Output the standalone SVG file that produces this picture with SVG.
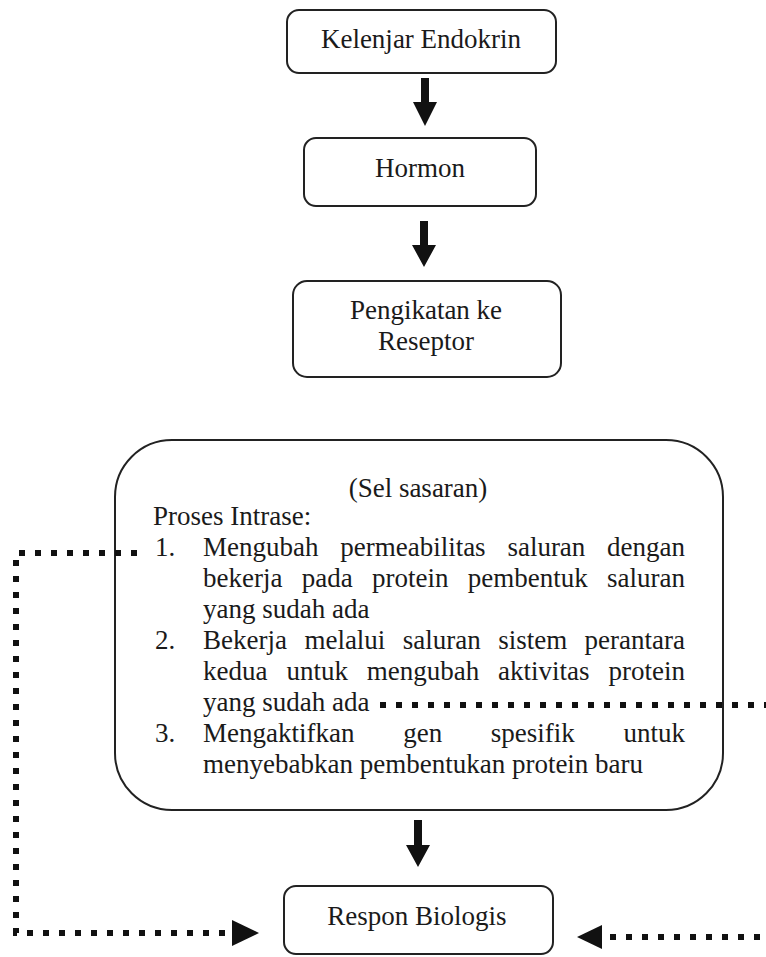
<svg xmlns="http://www.w3.org/2000/svg" width="766" height="957" viewBox="0 0 766 957">
<style>
.box{fill:#fff;stroke:#222;stroke-width:2}
.t{font-family:"Liberation Serif","Times New Roman",serif;font-size:27px;fill:#1a1a1a}
.c{text-anchor:middle}
.dot{fill:none;stroke:#111;stroke-width:6;stroke-dasharray:6 10}
.ah{fill:#111}
</style>
<rect width="766" height="957" fill="#fff"/>
<g id="kelenjar">
<rect class="box" x="287" y="10" width="269" height="63" rx="12"/>
<text class="t c" x="421" y="48">Kelenjar Endokrin</text>
</g>
<g id="hormon">
<rect class="box" x="304" y="138" width="232" height="68" rx="12"/>
<text class="t c" x="420" y="177">Hormon</text>
</g>
<g id="pengikatan">
<rect class="box" x="293" y="281" width="268" height="96" rx="14"/>
<text class="t c" x="426" y="319">Pengikatan ke</text>
<text class="t c" x="426" y="350">Reseptor</text>
</g>
<g id="sel-sasaran">
<rect class="box" x="115" y="440" width="608" height="370" rx="57"/>
<text class="t c" x="418" y="497">(Sel sasaran)</text>
<text class="t" x="153" y="525">Proses Intrase:</text>
<text class="t" y="556"><tspan x="155">1.</tspan><tspan x="203">Mengubah</tspan><tspan x="340.2">permeabilitas</tspan><tspan x="507.4">saluran</tspan><tspan x="607.1">dengan</tspan></text>
<text class="t" y="587"><tspan x="203">bekerja</tspan><tspan x="301.7">pada</tspan><tspan x="372">protein</tspan><tspan x="467.8">pembentuk</tspan><tspan x="607">saluran</tspan></text>
<text class="t" x="203" y="618">yang sudah ada</text>
<text class="t" y="649"><tspan x="155">2.</tspan><tspan x="203">Bekerja</tspan><tspan x="304.4">melalui</tspan><tspan x="402.8">saluran</tspan><tspan x="498.2">sistem</tspan><tspan x="584.6">perantara</tspan></text>
<text class="t" y="680"><tspan x="203">kedua</tspan><tspan x="286.4">untuk</tspan><tspan x="366.8">mengubah</tspan><tspan x="498.1">aktivitas</tspan><tspan x="608.5">protein</tspan></text>
<text class="t" x="203" y="711">yang sudah ada</text>
<text class="t" y="742"><tspan x="155">3.</tspan><tspan x="203">Mengaktifkan</tspan><tspan x="403.2">gen</tspan><tspan x="490.8">spesifik</tspan><tspan x="623.5">untuk</tspan></text>
<text class="t" x="203" y="773">menyebabkan pembentukan protein baru</text>
</g>
<g id="respon">
<rect class="box" x="284" y="886" width="269" height="68" rx="12"/>
<text class="t c" x="417" y="925">Respon Biologis</text>
</g>
<g id="connectors">
<path class="ah" d="M421,78 h8 v24 h8 l-12,24 l-12,-24 h8 z"/>
<path class="ah" d="M420,221 h8 v24 h8 l-12,22 l-12,-22 h8 z"/>
<path class="ah" d="M414,820 h8 v25 h8 l-12,22 l-12,-22 h8 z"/>
<path class="dot" d="M137,553 H16 V933 H232"/>
<polygon class="ah" points="232,920 259,933 232,946"/>
<path class="dot" d="M380,705 H790 V937 H602"/>
<polygon class="ah" points="602,925 577,937 602,949"/>
</g>
</svg>
